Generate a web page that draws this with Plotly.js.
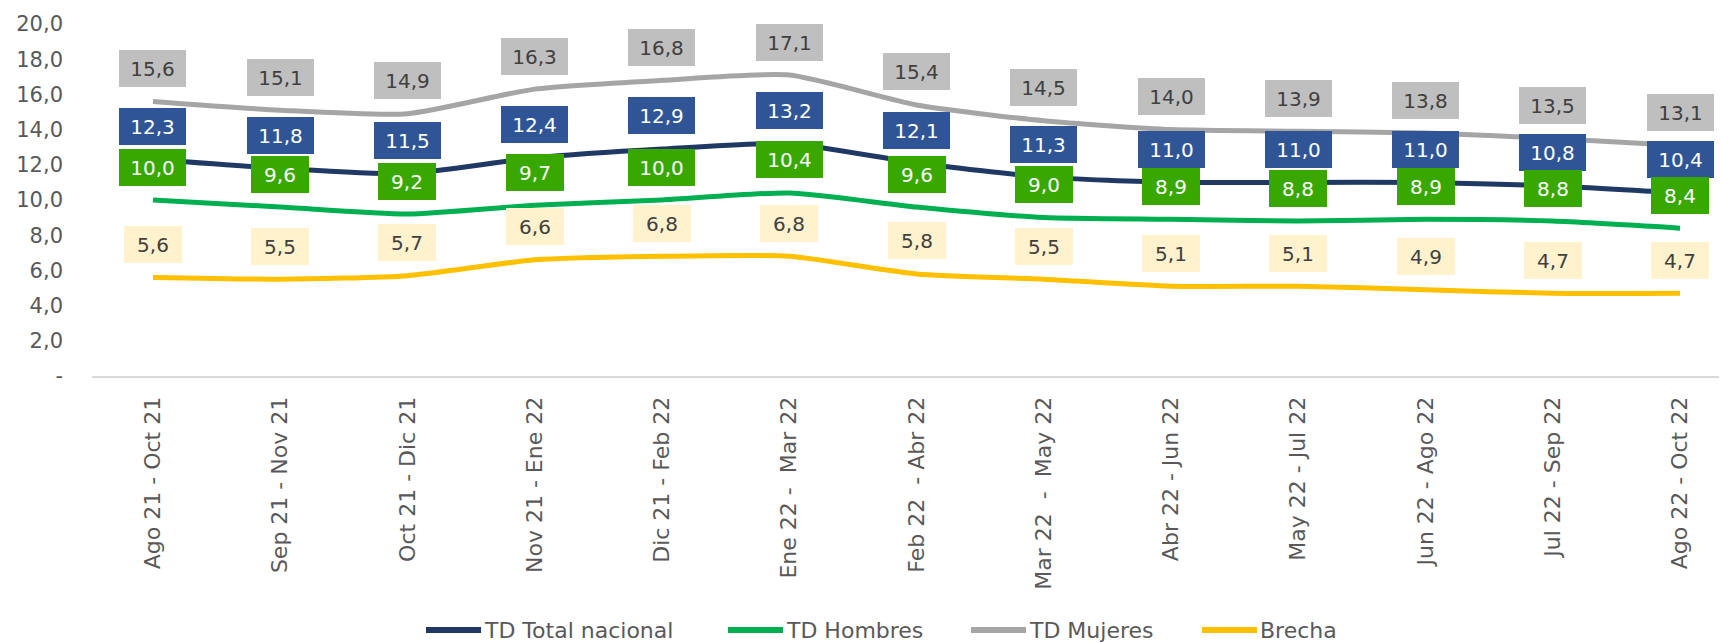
<!DOCTYPE html>
<html>
<head>
<meta charset="utf-8">
<script src="https://cdn.plot.ly/plotly-3.0.1.min.js"></script>
<style>html,body{margin:0;padding:0;background:#fff;}#chart{width:1721px;height:642px;}</style>
</head>
<body>
<div id="chart"></div>
<script>
const categories = [
  "Ago 21 - Oct 21", "Sep 21 - Nov 21", "Oct 21 - Dic 21", "Nov 21 - Ene 22",
  "Dic 21 - Feb 22", "Ene 22 -\u00a0 Mar 22", "Feb 22\u00a0 - Abr 22", "Mar 22\u00a0 -\u00a0 May 22",
  "Abr 22 - Jun 22", "May 22 - Jul 22", "Jun 22 - Ago 22", "Jul 22 - Sep 22", "Ago 22 - Oct 22"
];
const tdTotal   = [12.3, 11.8, 11.5, 12.4, 12.9, 13.2, 12.1, 11.3, 11.0, 11.0, 11.0, 10.8, 10.4];
const tdHombres = [10.0, 9.6, 9.2, 9.7, 10.0, 10.4, 9.6, 9.0, 8.9, 8.8, 8.9, 8.8, 8.4];
const tdMujeres = [15.6, 15.1, 14.9, 16.3, 16.8, 17.1, 15.4, 14.5, 14.0, 13.9, 13.8, 13.5, 13.1];
const brecha    = [5.6, 5.5, 5.7, 6.6, 6.8, 6.8, 5.8, 5.5, 5.1, 5.1, 4.9, 4.7, 4.7];
const seriesNames = ["TD Total nacional", "TD Hombres", "TD Mujeres", "Brecha"];
const yTickVals = [0, 2, 4, 6, 8, 10, 12, 14, 16, 18, 20];
const yTickText = ["-", "2,0", "4,0", "6,0", "8,0", "10,0", "12,0", "14,0", "16,0", "18,0", "20,0"];

const FONT = "DejaVu Sans, Verdana, sans-serif";
const series = [
  {name: seriesNames[0], y: tdTotal,   line: "#1F3864", box: "#2F5597", txt: "#FFFFFF"},
  {name: seriesNames[1], y: tdHombres, line: "#00B050", box: "#38A800", txt: "#FFFFFF"},
  {name: seriesNames[2], y: tdMujeres, line: "#A5A5A5", box: "#BFBFBF", txt: "#404040"},
  {name: seriesNames[3], y: brecha,    line: "#FFC000", box: "#FFF2CC", txt: "#404040"}
];

const fmt = v => v.toFixed(1).replace(".", ",");

const traces = series.map(s => ({
  type: "scatter", mode: "lines", name: s.name,
  x: categories, y: s.y,
  line: {color: s.line, width: 5, shape: "spline", smoothing: 0.6},
  hoverinfo: "skip", showlegend: false
}));

const annotations = [];
series.forEach(s => {
  s.y.forEach((v, i) => {
    const t = fmt(v);
    annotations.push({
      x: categories[i], y: v, xref: "x", yref: "y",
      text: t, showarrow: false,
      xanchor: "center", yanchor: "middle", yshift: 33,
      bgcolor: s.box, borderwidth: 0, borderpad: 6,
      width: t.length === 3 ? 46 : 55, height: 25,
      font: {family: FONT, size: 20, color: s.txt}
    });
  });
});

// Custom legend (longer line samples than Plotly's built-in legend)
const plotL = 92, plotW = 1627, plotB = 376, plotH = 352;
const px2x = p => (p - plotL) / plotW;
const legendY = (plotB - 630) / plotH;
const legendStarts = [426, 728, 971, 1202];
const shapes = [];
series.forEach((s, k) => {
  const x0 = legendStarts[k];
  shapes.push({
    type: "line", xref: "paper", yref: "paper",
    x0: px2x(x0), x1: px2x(x0 + 55), y0: legendY, y1: legendY,
    line: {color: s.line, width: 6}
  });
  annotations.push({
    xref: "paper", yref: "paper", x: px2x(x0 + 56), y: legendY,
    xanchor: "left", yanchor: "middle", showarrow: false,
    text: s.name, font: {family: FONT, size: 22, color: "#595959"}
  });
});

const layout = {
  width: 1721, height: 642,
  margin: {l: 92, r: 2, t: 24, b: 266},
  paper_bgcolor: "#FFFFFF", plot_bgcolor: "#FFFFFF",
  showlegend: false,
  xaxis: {
    type: "category", range: [-0.479, 12.306],
    showgrid: false, zeroline: false,
    showline: true, linecolor: "#D9D9D9", linewidth: 2,
    ticks: "", tickangle: -90, ticklabelstandoff: 10,
    tickfont: {family: FONT, size: 22, color: "#595959"},
    fixedrange: true
  },
  yaxis: {
    range: [0, 20], showgrid: false, zeroline: false, showline: false,
    tickvals: yTickVals, ticktext: yTickText, ticks: "",
    ticklabelstandoff: 28,
    tickfont: {family: FONT, size: 21, color: "#595959"},
    fixedrange: true
  },
  shapes: shapes,
  annotations: annotations
};

Plotly.newPlot("chart", traces, layout, {displayModeBar: false, staticPlot: true});
</script>
</body>
</html>
